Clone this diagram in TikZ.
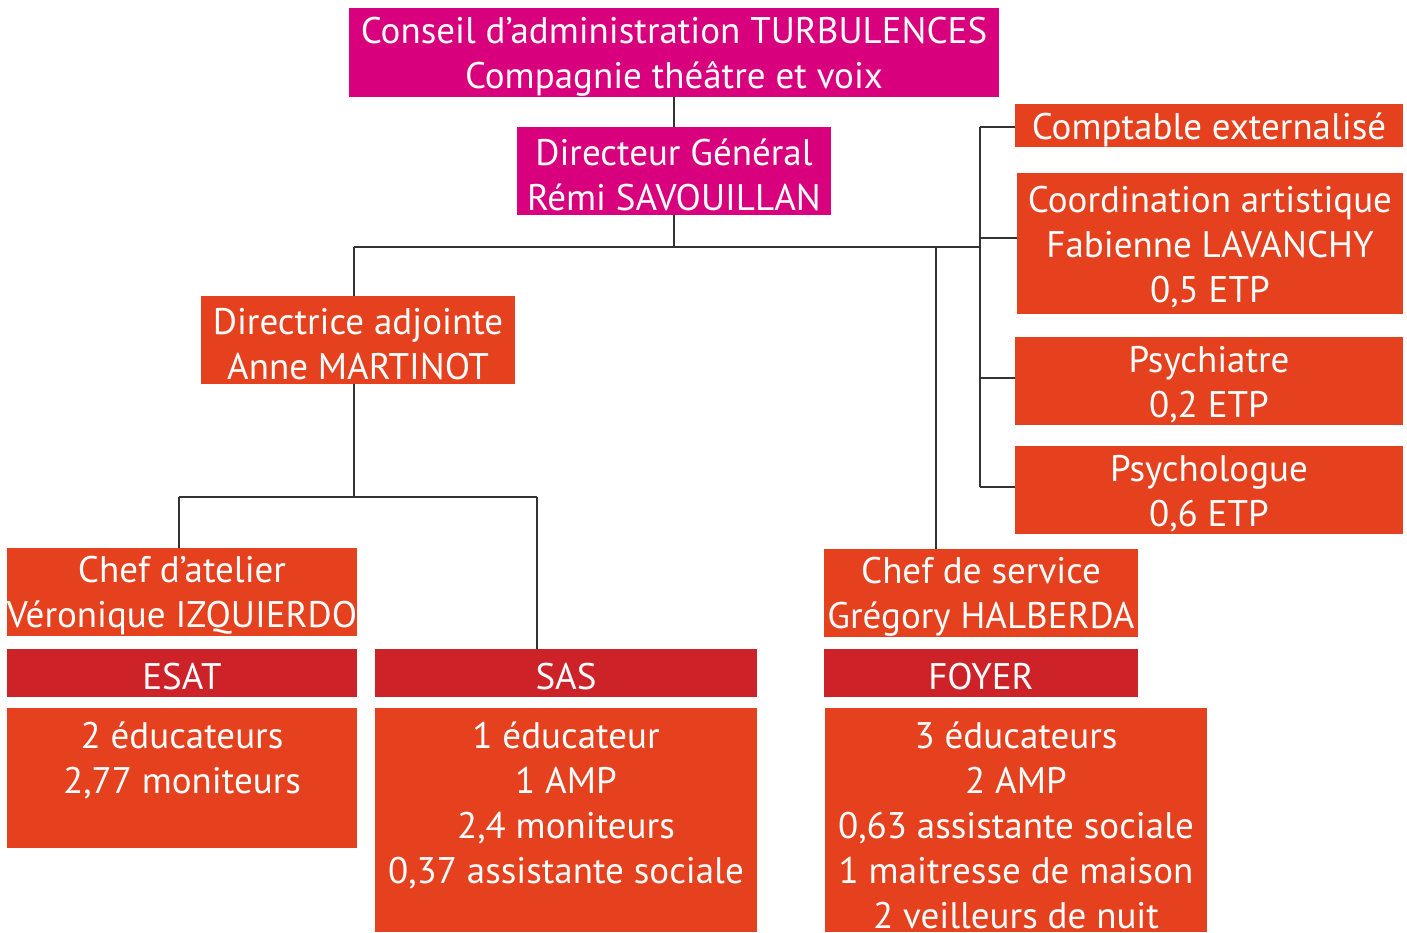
\documentclass[tikz,border=0pt]{standalone}
\usepackage{fontspec}
\setmainfont{PT Sans}
\definecolor{mag}{HTML}{D9007D}
\definecolor{org}{HTML}{E5411E}
\definecolor{dred}{HTML}{CE2229}
\definecolor{lin}{HTML}{333333}
\newcommand\orgbox[6]{%
  \node[box, fill=#2, minimum width=#3, minimum height=#4] (#1) at (#5) {};
  \node[txt, yshift=-4pt] (#1-t) at (#1.center) {#6};}
\begin{document}
\begin{tikzpicture}[x=1pt,y=-1pt,
  box/.style={rectangle, inner sep=0pt, outer sep=0pt},
  txt/.style={inner sep=0pt, text=white, align=center, font=\fontsize{37}{45}\selectfont},
  conn/.style={draw=lin, line width=2.6pt}]
\useasboundingbox (0,0) rectangle (1407,932);
% top
\orgbox{conseil}{mag}{650}{89}{674,52.5}{Conseil d’administration TURBULENCES\\Compagnie théâtre et voix}
\orgbox{dg}{mag}{314}{88}{674,171}{Directeur Général\\Rémi SAVOUILLAN}
% right column
\orgbox{compt}{org}{388}{43}{1209,125.5}{Comptable externalisé}
\orgbox{coord}{org}{386}{141}{1210,243.5}{Coordination artistique\\Fabienne LAVANCHY\\0,5 ETP}
\orgbox{psychiatre}{org}{388}{88}{1209,381}{Psychiatre\\0,2 ETP}
\orgbox{psychologue}{org}{388}{88}{1209,490}{Psychologue\\0,6 ETP}
% middle
\orgbox{dir}{org}{314}{88}{358,340}{Directrice adjointe\\Anne MARTINOT}
\orgbox{chefa}{org}{350}{88}{182,592}{Chef d’atelier\\Véronique IZQUIERDO}
\orgbox{chefs}{org}{314}{88}{981,593}{Chef de service\\Grégory HALBERDA}
% service headers
\orgbox{esat}{dred}{350}{48}{182,673}{ESAT}
\orgbox{sas}{dred}{382}{48}{566,673}{SAS}
\orgbox{foyer}{dred}{314}{48}{981,673}{FOYER}
% content boxes
\node[box, fill=org, minimum width=350, minimum height=140] (esatc) at (182,778) {};
\node[box, fill=org, minimum width=382, minimum height=224] (sasc) at (566,820) {};
\node[box, fill=org, minimum width=382, minimum height=224] (foyerc) at (1016,820) {};
\node[txt, anchor=north] (esatt) at (182,722) {2 éducateurs\\2,77 moniteurs};
\node[txt, anchor=north] (sast) at (566,722) {1 éducateur\\1 AMP\\2,4 moniteurs\\0,37 assistante sociale};
\node[txt, anchor=north] (foyert) at (1016,722) {3 éducateurs\\2 AMP\\0,63 assistante sociale\\1 maitresse de maison\\2 veilleurs de nuit};
% connectors
\coordinate (hL) at (354,247);
\coordinate (hR) at (980,247);
\coordinate (hF) at (936,247);
\coordinate (b1) at (980,127);
\coordinate (b2) at (980,238);
\coordinate (b3) at (980,378);
\coordinate (b4) at (980,487);
\coordinate (dv) at (354,497);
\coordinate (dL) at (179,497);
\coordinate (dR) at (537,497);
\draw[conn] (conseil.south) -- (dg.north);
\draw[conn] (dg.south) -- (dg.south |- hL);
\draw[conn] (hL) -- (hR);
\draw[conn] (hL) -- (hL |- dir.north);
\draw[conn] (hF) -- (hF |- chefs.north);
\draw[conn] (b1) -- (b4);
\draw[conn] (b1) -- (b1 -| compt.west);
\draw[conn] (b2) -- (b2 -| coord.west);
\draw[conn] (b3) -- (b3 -| psychiatre.west);
\draw[conn] (b4) -- (b4 -| psychologue.west);
\draw[conn] (dv |- dir.south) -- (dv);
\draw[conn] (dL) -- (dR);
\draw[conn] (dL) -- (dL |- chefa.north);
\draw[conn] (dR) -- (dR |- sas.north);
\end{tikzpicture}
\end{document}
